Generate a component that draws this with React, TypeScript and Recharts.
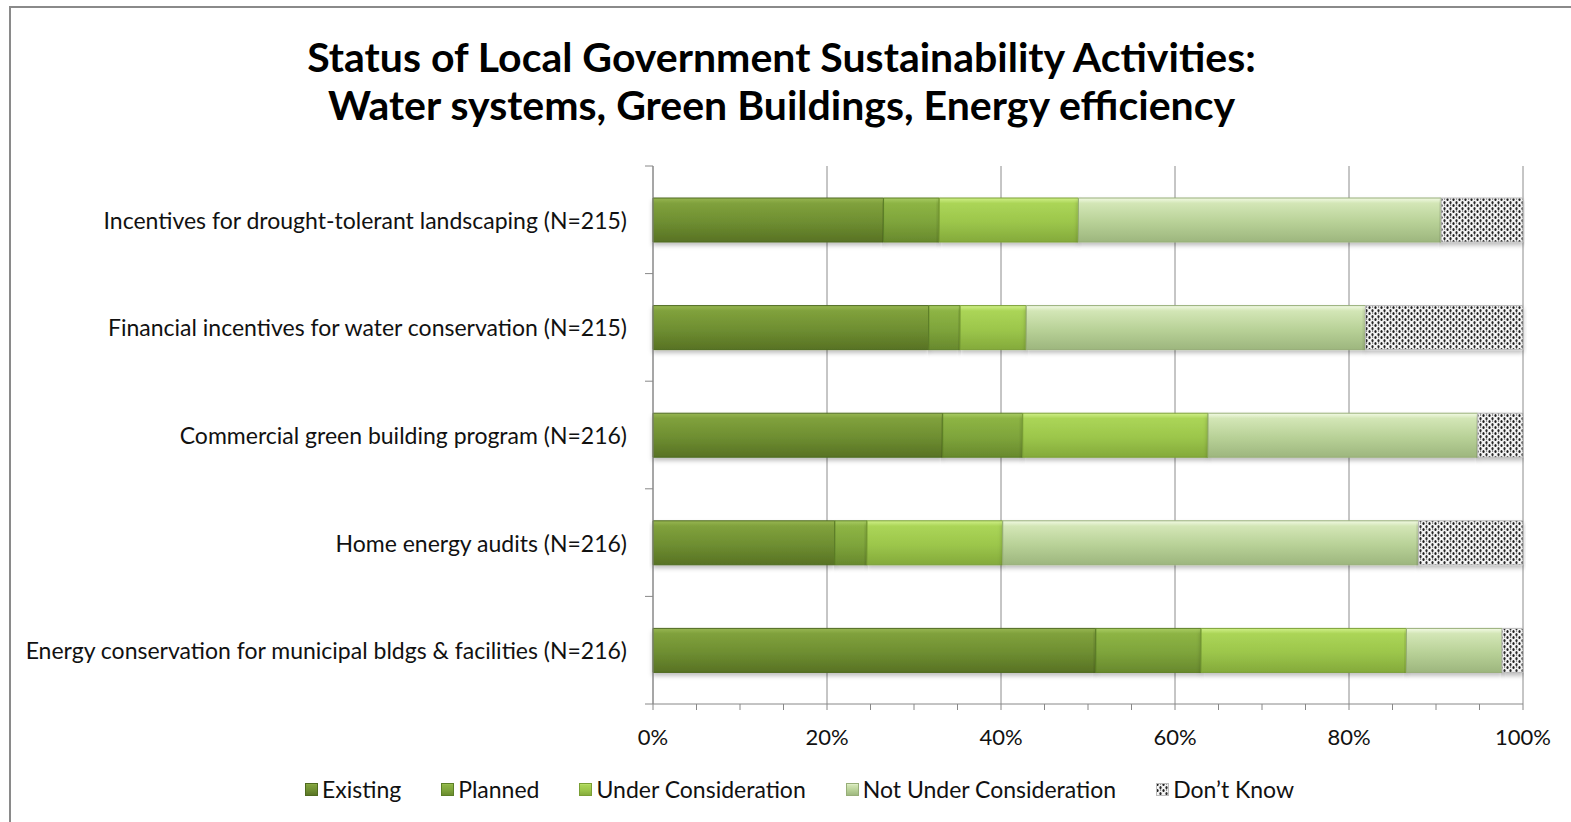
import { BarChart, Bar, XAxis, YAxis, CartesianGrid } from 'recharts';

const categories = [
  'Incentives for drought-tolerant landscaping (N=215)',
  'Financial incentives for water conservation (N=215)',
  'Commercial green building program (N=216)',
  'Home energy audits (N=216)',
  'Energy conservation for municipal bldgs & facilities (N=216)',
];
const existing = [26.5, 31.7, 33.3, 20.9, 50.9];
const planned = [6.4, 3.6, 9.2, 3.7, 12.1];
const underConsideration = [16.0, 7.6, 21.3, 15.6, 23.6];
const notUnderConsideration = [41.7, 39.0, 31.0, 47.8, 11.0];
const dontKnow = [9.4, 18.1, 5.2, 12.0, 2.4];

const xTicks = [0, 5, 10, 15, 20, 25, 30, 35, 40, 45, 50, 55, 60, 65, 70, 75, 80, 85, 90, 95, 100];
const xLabelTicks = [0, 20, 40, 60, 80, 100];

const series = [
  { key: 'existing', name: 'Existing', fill: 'url(#gExisting)', stroke: '#4e6a1f' },
  { key: 'planned', name: 'Planned', fill: 'url(#gPlanned)', stroke: '#5c7f26' },
  { key: 'under', name: 'Under Consideration', fill: 'url(#gUnder)', stroke: '#7a9f35' },
  { key: 'notUnder', name: 'Not Under Consideration', fill: 'url(#gNotUnder)', stroke: '#97ae78' },
  { key: 'dontKnow', name: 'Don\u2019t Know', fill: 'url(#gDots)', stroke: '#bbbbbb' },
];

const data = categories.map((name, i) => ({
  name,
  existing: existing[i],
  planned: planned[i],
  under: underConsideration[i],
  notUnder: notUnderConsideration[i],
  dontKnow: dontKnow[i],
}));

const FONT = "Lato, 'Open Sans', sans-serif";
const PLOT_TOP = 166;
const PLOT_BOTTOM = 704;
const BAND = (PLOT_BOTTOM - PLOT_TOP) / categories.length;

const CategoryTick = (props: any) => {
  const { x, y, payload, index } = props;
  const half = BAND / 2;
  return (
    <g>
      <text x={x} y={y} textAnchor="end" dominantBaseline="central" fontSize={23} fill="#111" fontFamily={FONT}>
        {payload.value}
      </text>
      <line x1={x + 18} x2={x + 26} y1={y - half} y2={y - half} stroke="#888" />
      {index === categories.length - 1 && (
        <line x1={x + 18} x2={x + 26} y1={y + half} y2={y + half} stroke="#888" />
      )}
    </g>
  );
};

const PercentTick = (props: any) => {
  const { x, y, payload } = props;
  if (!xLabelTicks.includes(payload.value)) return <g />;
  return (
    <text x={x} y={y + 24} textAnchor="middle" dominantBaseline="central" fontSize={22} fill="#111" fontFamily={FONT}>
      {payload.value}%
    </text>
  );
};

function Defs() {
  const grad = (id: string, c: string[]) => (
    <linearGradient id={id} x1="0" y1="0" x2="0" y2="1">
      <stop offset="0" stopColor={c[0]} />
      <stop offset="0.12" stopColor={c[1]} />
      <stop offset="0.55" stopColor={c[2]} />
      <stop offset="1" stopColor={c[3]} />
    </linearGradient>
  );
  return (
    <svg width={0} height={0} style={{ position: 'absolute' }}>
      <defs>
        {grad('gExisting', ['#97b652', '#80a13c', '#6e8e31', '#587224'])}
        {grad('gPlanned', ['#a9cc64', '#8db444', '#7ea43b', '#68892d'])}
        {grad('gUnder', ['#d0f088', '#abd557', '#9cc64b', '#84aa3b'])}
        {grad('gNotUnder', ['#f2fae4', '#d3e6b6', '#b8d197', '#9db67e'])}
        <pattern id="gDots" width={6} height={6} patternUnits="userSpaceOnUse">
          <rect width={6} height={6} fill="#f4f4f4" />
          <ellipse cx={1.5} cy={1.6} rx={1.1} ry={1.5} fill="#1e1e1e" />
          <ellipse cx={4.5} cy={4.6} rx={1.1} ry={1.5} fill="#2a2a2a" />
          <ellipse cx={4.6} cy={1.0} rx={0.6} ry={0.8} fill="#555" />
        </pattern>
        <filter id="barShadow" x="-2%" y="-10%" width="104%" height="140%">
          <feDropShadow dx="0" dy="3" stdDeviation="2" floodColor="#000" floodOpacity="0.25" />
        </filter>
      </defs>
    </svg>
  );
}

const gridX = (p: any) => {
  const scale = p.xAxis && typeof p.xAxis.scale === 'function' ? p.xAxis.scale : null;
  return xLabelTicks.map((v) => (scale ? scale(v) : p.offset.left + (p.offset.width * v) / 100));
};

export default function App() {
  return (
    <div style={{ position: 'absolute', left: 0, top: 0, width: 1571, height: 822, background: '#fff', fontFamily: FONT }}>
      <Defs />
      <div
        style={{
          position: 'absolute',
          left: 9,
          top: 6,
          width: 1570,
          height: 830,
          border: '2px solid #8a8a8a',
          boxSizing: 'border-box',
        }}
      />
      <div
        style={{
          position: 'absolute',
          left: 0,
          top: 33,
          width: 1563,
          textAlign: 'center',
          fontSize: 41,
          fontWeight: 700,
          lineHeight: '48px',
          color: '#000',
        }}
      >
        <div>Status of Local Government Sustainability Activities:</div>
        <div>Water systems, Green Buildings, Energy efficiency</div>
      </div>
      <div style={{ position: 'absolute', left: 0, top: 0 }}>
        <BarChart
          width={1571}
          height={822}
          data={data}
          layout="vertical"
          margin={{ top: PLOT_TOP, right: 48, bottom: 822 - PLOT_BOTTOM - 40, left: 0 }}
          barSize={44}
        >
          <CartesianGrid horizontal={false} stroke="#8c8c8c" verticalCoordinatesGenerator={gridX} />
          <XAxis
            type="number"
            domain={[0, 100]}
            ticks={xTicks}
            interval={0}
            height={40}
            axisLine={{ stroke: '#888' }}
            tickLine={{ stroke: '#888' }}
            tickSize={6}
            tick={<PercentTick />}
          />
          <YAxis
            type="category"
            dataKey="name"
            width={653}
            axisLine={{ stroke: '#888' }}
            tickLine={false}
            tickSize={8}
            tickMargin={18}
            interval={0}
            tick={<CategoryTick />}
          />
          {series.map((s) => (
            <Bar
              key={s.key}
              dataKey={s.key}
              name={s.name}
              stackId="a"
              fill={s.fill}
              stroke={s.stroke}
              strokeWidth={1}
              style={{ filter: 'url(#barShadow)' }}
              isAnimationActive={false}
            />
          ))}
        </BarChart>
      </div>
      <div
        style={{
          position: 'absolute',
          left: 305,
          top: 775,
          display: 'flex',
          alignItems: 'center',
          fontSize: 23,
          lineHeight: '28px',
          color: '#111',
          whiteSpace: 'nowrap',
        }}
      >
        {series.map((s) => (
          <div key={s.key} style={{ display: 'flex', alignItems: 'center', marginRight: 40 }}>
            <svg width={13} height={13} style={{ marginRight: 4 }}>
              <rect x={0.5} y={0.5} width={12} height={12} fill={s.fill} stroke={s.stroke} />
            </svg>
            <span>{s.name}</span>
          </div>
        ))}
      </div>
    </div>
  );
}
